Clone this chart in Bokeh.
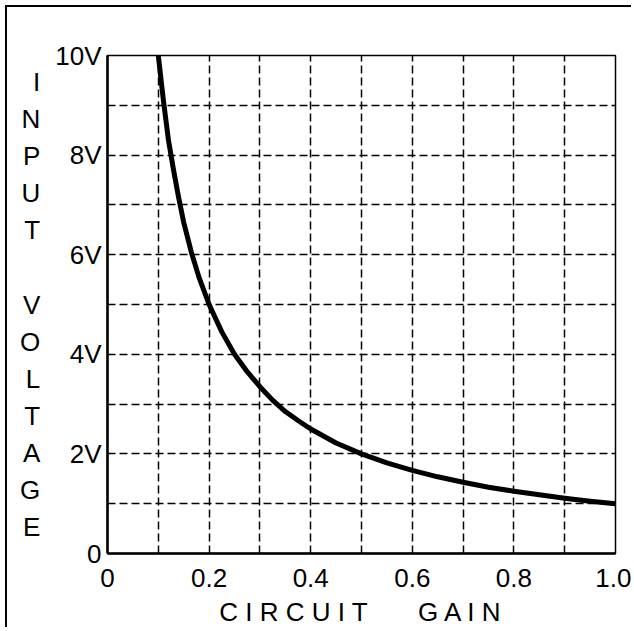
from bokeh.plotting import figure
from bokeh.models import Range1d, FixedTicker
from bokeh.embed import file_html
from bokeh.resources import INLINE

# ---- data ----
gain = [0.100, 0.110, 0.120, 0.130, 0.140, 0.150, 0.165, 0.180, 0.200, 0.225,
        0.250, 0.275, 0.300, 0.325, 0.350, 0.375, 0.400, 0.450, 0.500, 0.550,
        0.600, 0.650, 0.700, 0.750, 0.800, 0.850, 0.900, 0.950, 1.000]
volts = [10.0, 9.1, 8.3, 7.7, 7.15, 6.65, 6.05, 5.55, 5.0, 4.45,
         4.0, 3.65, 3.35, 3.08, 2.85, 2.67, 2.5, 2.22, 2.0, 1.82,
         1.67, 1.54, 1.43, 1.33, 1.25, 1.18, 1.11, 1.05, 1.0]

x_ticks = [0, 0.2, 0.4, 0.6, 0.8, 1.0]
x_tick_labels = ["0", "0.2", "0.4", "0.6", "0.8", "1.0"]
y_ticks = [0, 2, 4, 6, 8, 10]
y_tick_labels = ["0", "2V", "4V", "6V", "8V", "10V"]
x_grid = [0.1, 0.2, 0.3, 0.4, 0.5, 0.6, 0.7, 0.8, 0.9]
y_grid = [1, 2, 3, 4, 5, 6, 7, 8, 9]

y_title = "I\nN\nP\nU\nT\n\nV\nO\nL\nT\nA\nG\nE"
x_title = "C I R C U I T" + "\u00a0" * 7 + "G A I N"

FONT = "Liberation Sans"

p = figure(width=626, height=622, output_backend="svg", toolbar_location=None,
           x_range=Range1d(0, 1), y_range=Range1d(0, 10),
           min_border_left=100, min_border_right=18,
           min_border_top=48, min_border_bottom=75)
p.styles = {"border-left": "2px solid black", "border-top": "2px solid black",
            "margin-left": "5px", "margin-top": "5px"}

p.background_fill_color = "white"
p.border_fill_color = "white"
p.outline_line_color = "black"
p.outline_line_width = 1.5

# grid
p.xgrid.ticker = FixedTicker(ticks=x_grid)
p.ygrid.ticker = FixedTicker(ticks=y_grid)
for g in (p.xgrid, p.ygrid):
    g.grid_line_color = "black"
    g.grid_line_width = 1.5
    g.grid_line_dash = "8 4"
    g.grid_line_alpha = 1.0

# axes
p.xaxis.ticker = FixedTicker(ticks=x_ticks)
p.yaxis.ticker = FixedTicker(ticks=y_ticks)
p.xaxis.major_label_overrides = {t: l for t, l in zip(x_ticks, x_tick_labels)}
p.yaxis.major_label_overrides = {t: l for t, l in zip(y_ticks, y_tick_labels)}
for ax in (p.xaxis, p.yaxis):
    ax.axis_line_color = "black"
    ax.axis_line_width = 2.5
    ax.major_tick_line_color = None
    ax.minor_tick_line_color = None
    ax.major_label_text_font = FONT
    ax.major_label_text_font_size = "26px"
    ax.major_label_text_color = "black"
    ax.axis_label_text_font = FONT
    ax.axis_label_text_font_style = "normal"
    ax.axis_label_text_color = "black"
p.xaxis.major_label_standoff = 9
p.yaxis.major_label_standoff = 0

p.xaxis.axis_label = x_title
p.xaxis.axis_label_text_font_size = "26px"
p.xaxis.axis_label_standoff = 7

p.yaxis.axis_label = y_title
p.yaxis.axis_label_orientation = "horizontal"
p.yaxis.axis_label_text_font_size = "26px"
p.yaxis.axis_label_text_line_height = 1.234
p.yaxis.axis_label_text_align = "center"
p.yaxis.axis_label_standoff = 12

# curve
p.line(gain, volts, line_color="black", line_width=5, line_cap="round", line_join="round")

open("out.html", "w").write(file_html(p, INLINE))
